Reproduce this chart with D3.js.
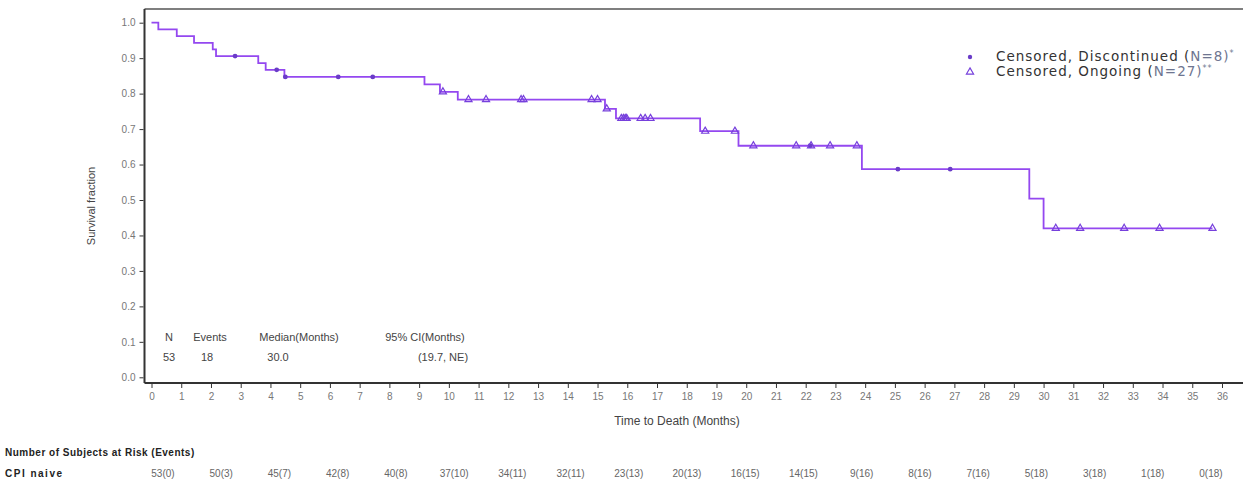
<!DOCTYPE html>
<html>
<head>
<meta charset="utf-8">
<script src="https://cdn.jsdelivr.net/npm/d3@7"></script>
<style>
  body { margin: 0; background: #fff; }
  svg { display: block; font-family: "Liberation Sans", Arial, sans-serif; }
  .tick text { fill: #777; font-size: 10px; }
  .tick line { stroke: #333; }
</style>
</head>
<body>
<svg id="chart" width="1243" height="481"></svg>
<script>
// ---- data ----
// KM step curve: time (months) where the curve drops, survival after the drop
const stepTimes = [0, 0.23, 0.85, 1.43, 2.06, 2.17, 3.59, 3.84, 4.47, 9.18, 9.70, 10.30, 15.25, 15.62, 18.45, 19.74, 23.89, 29.52, 30.00, 35.68];
const stepSurv  = [1.0, 0.981, 0.962, 0.943, 0.925, 0.906, 0.886, 0.867, 0.847, 0.826, 0.805, 0.783, 0.757, 0.730, 0.694, 0.653, 0.587, 0.504, 0.420, 0.420];

// censored, discontinued (dots)
const discTimes = [2.81, 4.21, 4.50, 6.28, 7.44, 22.15, 25.10, 26.86];
const discSurv  = [0.906, 0.867, 0.847, 0.847, 0.847, 0.653, 0.587, 0.587];

// censored, ongoing (triangles)
const ongTimes = [9.80, 10.66, 11.25, 12.43, 12.51, 14.80, 15.00, 15.31, 15.80, 15.87, 15.93, 15.98,
                  16.45, 16.60, 16.78, 18.62, 19.62, 20.24, 21.68, 22.18, 22.82, 23.72,
                  30.41, 31.23, 32.71, 33.90, 35.68];
const ongSurv  = [0.805, 0.783, 0.783, 0.783, 0.783, 0.783, 0.783, 0.757, 0.730, 0.730, 0.730, 0.730,
                  0.730, 0.730, 0.730, 0.694, 0.694, 0.653, 0.653, 0.653, 0.653, 0.653,
                  0.420, 0.420, 0.420, 0.420, 0.420];

// number at risk (events) table
const riskTimes  = [0, 2, 4, 6, 8, 10, 12, 14, 16, 18, 20, 22, 24, 26, 28, 30, 32, 34, 36];
const riskN      = [53, 50, 45, 42, 40, 37, 34, 32, 23, 20, 16, 14, 9, 8, 7, 5, 3, 1, 0];
const riskEvents = [0, 3, 7, 8, 8, 10, 11, 11, 13, 13, 15, 15, 16, 16, 16, 18, 18, 18, 18];

const yTicks = [0, 0.1, 0.2, 0.3, 0.4, 0.5, 0.6, 0.7, 0.8, 0.9, 1.0];
const xTicks = d3.range(0, 37);

const statHead = ["N", "Events", "Median(Months)", "95% CI(Months)"];
const statVals = ["53", "18", "30.0", "(19.7, NE)"];

// ---- layout ----
const svg = d3.select("#chart");
const frame = { left: 144.5, top: 9, right: 1243, bottom: 383 };

const x = d3.scaleLinear().domain([0, 36]).range([151.5, 1222]);
const y = d3.scaleLinear().domain([0, 1]).range([377.3, 22.7]);
// risk table columns sit on a slightly narrower span than the axis
const xRisk = d3.scaleLinear().domain([0, 36]).range([163, 1211]);

// frame lines
svg.append("line").attr("x1", frame.left).attr("x2", frame.right)
  .attr("y1", frame.top).attr("y2", frame.top)
  .attr("stroke", "#555").attr("stroke-width", 1.6);
svg.append("line").attr("x1", frame.left).attr("x2", frame.left)
  .attr("y1", frame.top).attr("y2", frame.bottom)
  .attr("stroke", "#333").attr("stroke-width", 2);
svg.append("line").attr("x1", frame.left).attr("x2", frame.right)
  .attr("y1", frame.bottom).attr("y2", frame.bottom)
  .attr("stroke", "#333").attr("stroke-width", 2);

// axes
svg.append("g").attr("transform", `translate(${frame.left - 1},0)`)
  .call(d3.axisLeft(y).tickValues(yTicks).tickFormat(d3.format(".1f")).tickSize(4).tickPadding(4))
  .call(g => g.select(".domain").remove());

svg.append("g").attr("transform", `translate(0,${frame.bottom + 1})`)
  .call(d3.axisBottom(x).tickValues(xTicks).tickFormat(d3.format("d")).tickSize(4).tickPadding(5))
  .call(g => g.select(".domain").remove());

// axis titles
svg.append("text")
  .attr("transform", `translate(95,206) rotate(-90)`)
  .attr("text-anchor", "middle").attr("font-size", 11).attr("fill", "#444")
  .text("Survival fraction");

svg.append("text")
  .attr("x", 677).attr("y", 425)
  .attr("text-anchor", "middle").attr("font-size", 12).attr("fill", "#444")
  .text("Time to Death (Months)");

// KM curve
const curve = stepTimes.map((t, i) => ({ t, s: stepSurv[i] }));
svg.append("path")
  .datum(curve)
  .attr("fill", "none").attr("stroke", "#9448f0").attr("stroke-width", 1.8)
  .attr("d", d3.line().curve(d3.curveStepAfter).x(d => x(d.t)).y(d => y(d.s)));

// censor marks
const disc = discTimes.map((t, i) => ({ t, s: discSurv[i] }));
svg.selectAll(".disc").data(disc).join("circle").attr("class", "disc")
  .attr("cx", d => x(d.t)).attr("cy", d => y(d.s))
  .attr("r", 2.4).attr("fill", "#6a3cc8");

const ong = ongTimes.map((t, i) => ({ t, s: ongSurv[i] }));
const tri = d3.symbol().type(d3.symbolTriangle).size(22);
svg.selectAll(".ong").data(ong).join("path").attr("class", "ong")
  .attr("transform", d => `translate(${x(d.t)},${y(d.s)})`)
  .attr("d", tri).attr("fill", "none").attr("stroke", "#7640dc").attr("stroke-width", 1.2);

// legend
const legend = svg.append("g").attr("font-family", "DejaVu Sans, sans-serif")
  .attr("font-size", 13.5).attr("letter-spacing", 1);
legend.append("circle").attr("cx", 970).attr("cy", 57).attr("r", 2.2).attr("fill", "#6a3cc8");
legend.append("path").attr("transform", "translate(970,72)").attr("d", tri)
  .attr("fill", "none").attr("stroke", "#7640dc").attr("stroke-width", 1.2);
const l1 = legend.append("text").attr("x", 996).attr("y", 61).attr("fill", "#333");
l1.append("tspan").text("Censored, Discontinued (");
l1.append("tspan").attr("fill", "#6e7590").text("N=8)");
l1.append("tspan").attr("fill", "#6e7590").attr("font-size", 8).attr("dy", -5).text("*");
const l2 = legend.append("text").attr("x", 996).attr("y", 76).attr("fill", "#333");
l2.append("tspan").text("Censored, Ongoing (");
l2.append("tspan").attr("fill", "#6e7590").text("N=27)");
l2.append("tspan").attr("fill", "#6e7590").attr("font-size", 8).attr("dy", -5).text("**");

// stats box
const statX = [169, 210, 299, 425];
const statValX = [169, 207, 278, 443];
const stats = svg.append("g").attr("font-size", 11).attr("fill", "#444").attr("text-anchor", "middle");
stats.selectAll(".sh").data(statHead).join("text")
  .attr("x", (d, i) => statX[i]).attr("y", 341).text(d => d);
stats.selectAll(".sv").data(statVals).join("text")
  .attr("x", (d, i) => statValX[i]).attr("y", 361).text(d => d);

// risk table
svg.append("text").attr("x", 5).attr("y", 456)
  .attr("font-size", 10).attr("font-weight", "bold").attr("letter-spacing", 0.5).attr("fill", "#222")
  .text("Number of Subjects at Risk (Events)");
svg.append("text").attr("x", 5).attr("y", 477)
  .attr("font-size", 10).attr("font-weight", "bold").attr("letter-spacing", 1.5).attr("fill", "#222")
  .text("CPI naive");
svg.selectAll(".risk").data(riskTimes).join("text").attr("class", "risk")
  .attr("x", d => xRisk(d)).attr("y", 477)
  .attr("text-anchor", "middle").attr("font-size", 10).attr("fill", "#666")
  .text((d, i) => `${riskN[i]}(${riskEvents[i]})`);
</script>
</body>
</html>
